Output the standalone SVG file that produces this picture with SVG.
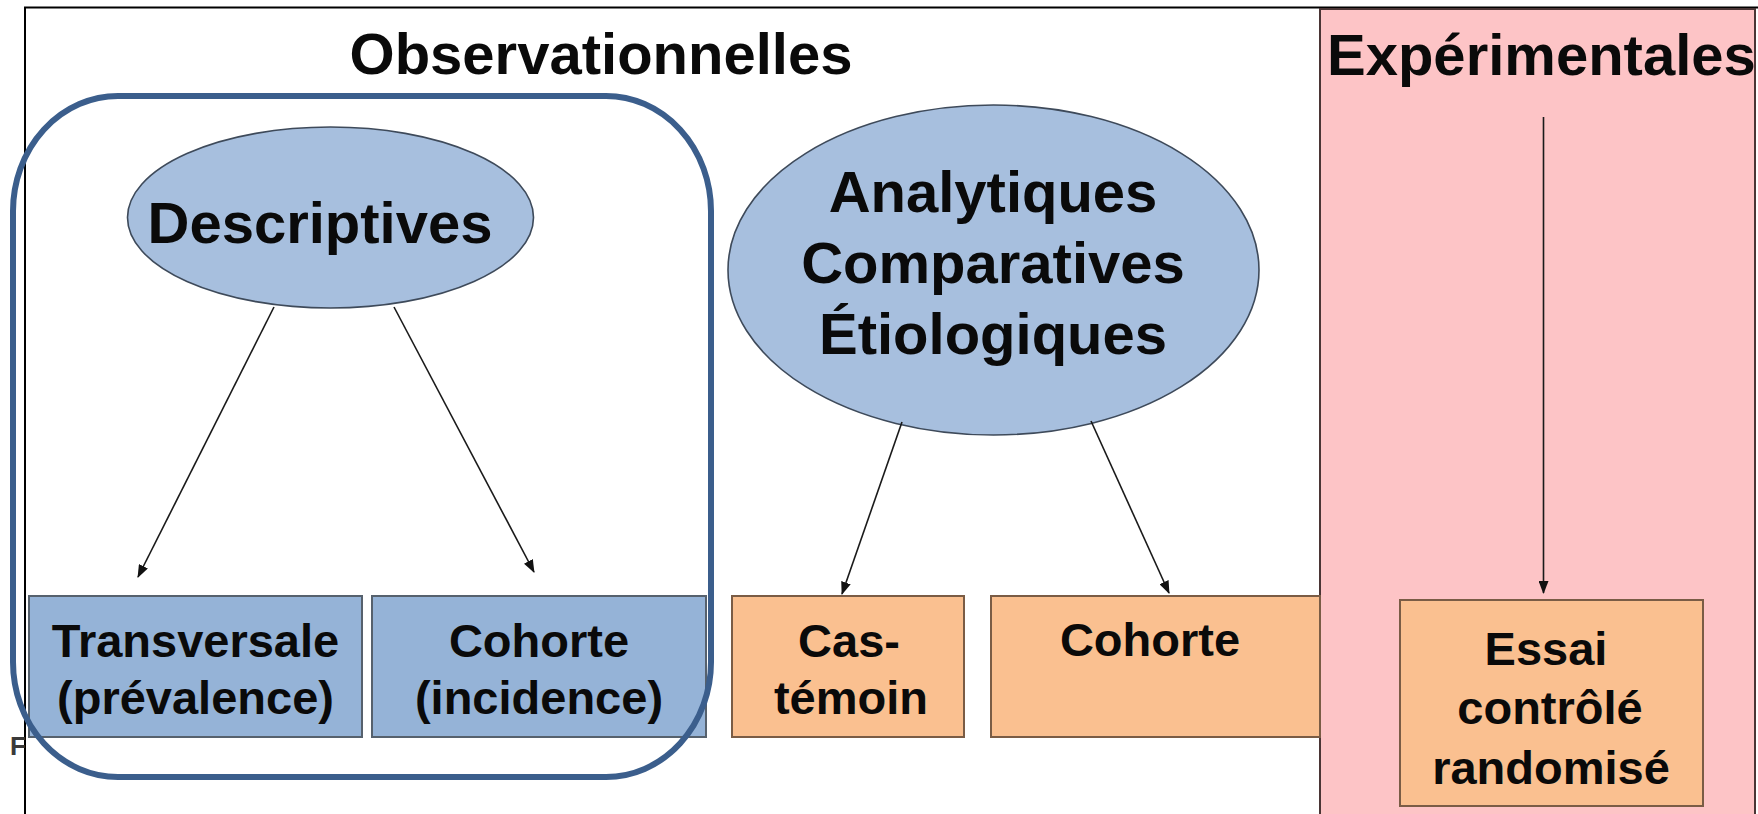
<svg xmlns="http://www.w3.org/2000/svg" width="1758" height="814" viewBox="0 0 1758 814">
<style>
.t{font-family:"Liberation Sans",Arial,sans-serif;font-weight:bold;fill:#0a0a0a;text-anchor:middle}
.title{font-size:58px}
.big{font-size:58px}
.box{font-size:47px}
.ell{fill:#a7bfde;stroke:#3e4a5a;stroke-width:1.6}
.bbox{fill:#95b3d7;stroke:#56616d;stroke-width:2}
.obox{fill:#fac090;stroke:#7a5c45;stroke-width:2}
.con{stroke:#1a1a1a;stroke-width:1.6;fill:none;marker-end:url(#ah)}
</style>
<defs>
<marker id="ah" markerUnits="userSpaceOnUse" markerWidth="13" markerHeight="10" refX="12" refY="5" orient="auto">
<path d="M0,0 L13,5 L0,10 z" fill="#111"/>
</marker>
</defs>
<rect width="1758" height="814" fill="#ffffff"/>
<g id="frame">
<path d="M25,814 L25,7.5 L1758,7.5" fill="none" stroke="#000" stroke-width="2"/>
</g>
<g id="experimentales">
<rect x="1320" y="9" width="435" height="812" fill="#fdc4c6" stroke="#4a3535" stroke-width="2"/>
<text class="t title" x="1327" y="75" style="text-anchor:start">Expérimentales</text>
</g>
<g id="observationnelles">
<text class="t title" x="601" y="74">Observationnelles</text>
</g>
<g id="descriptives">
<ellipse class="ell" cx="330.5" cy="217.5" rx="203" ry="90.5"/>
<text class="t big" x="320" y="243">Descriptives</text>
</g>
<g id="analytiques">
<ellipse class="ell" cx="993.5" cy="270" rx="265.5" ry="165"/>
<text class="t big" x="993" y="212">Analytiques</text>
<text class="t big" x="993" y="283">Comparatives</text>
<text class="t big" x="993" y="354">Étiologiques</text>
</g>
<g id="transversale">
<rect class="bbox" x="29" y="596" width="333" height="141"/>
<text class="t box" x="195.5" y="657">Transversale</text>
<text class="t box" x="195.5" y="714">(prévalence)</text>
</g>
<g id="cohorte-incidence">
<rect class="bbox" x="372" y="596" width="334" height="141"/>
<text class="t box" x="539" y="657">Cohorte</text>
<text class="t box" x="539" y="714">(incidence)</text>
</g>
<g id="cas-temoin">
<rect class="obox" x="732" y="596" width="232" height="141"/>
<text class="t box" x="849" y="657">Cas-</text>
<text class="t box" x="851" y="714">témoin</text>
</g>
<g id="cohorte">
<rect class="obox" x="991" y="596" width="329" height="141"/>
<text class="t box" x="1150" y="656">Cohorte</text>
</g>
<g id="essai">
<rect class="obox" x="1400" y="600" width="303" height="206"/>
<text class="t box" x="1546" y="665">Essai</text>
<text class="t box" x="1550" y="724">contrôlé</text>
<text class="t box" x="1551" y="784">randomisé</text>
</g>
<g id="connectors">
<line class="con" x1="274" y1="307" x2="138" y2="577"/>
<line class="con" x1="394" y1="307" x2="534" y2="572"/>
<line class="con" x1="902" y1="422" x2="842" y2="594"/>
<line class="con" x1="1091" y1="421" x2="1169" y2="593"/>
<line class="con" x1="1543.5" y1="117" x2="1543.5" y2="593"/>
</g>
<g id="descriptives-group">
<rect x="13" y="96" width="698" height="681" rx="105" ry="115" fill="none" stroke="#3b5e8c" stroke-width="6"/>
</g>
<g id="stray">
<text x="10" y="755" style="font-family:'Liberation Sans',Arial,sans-serif;font-weight:bold;font-size:26px;fill:#3a3a3a">F</text>
</g>
</svg>
